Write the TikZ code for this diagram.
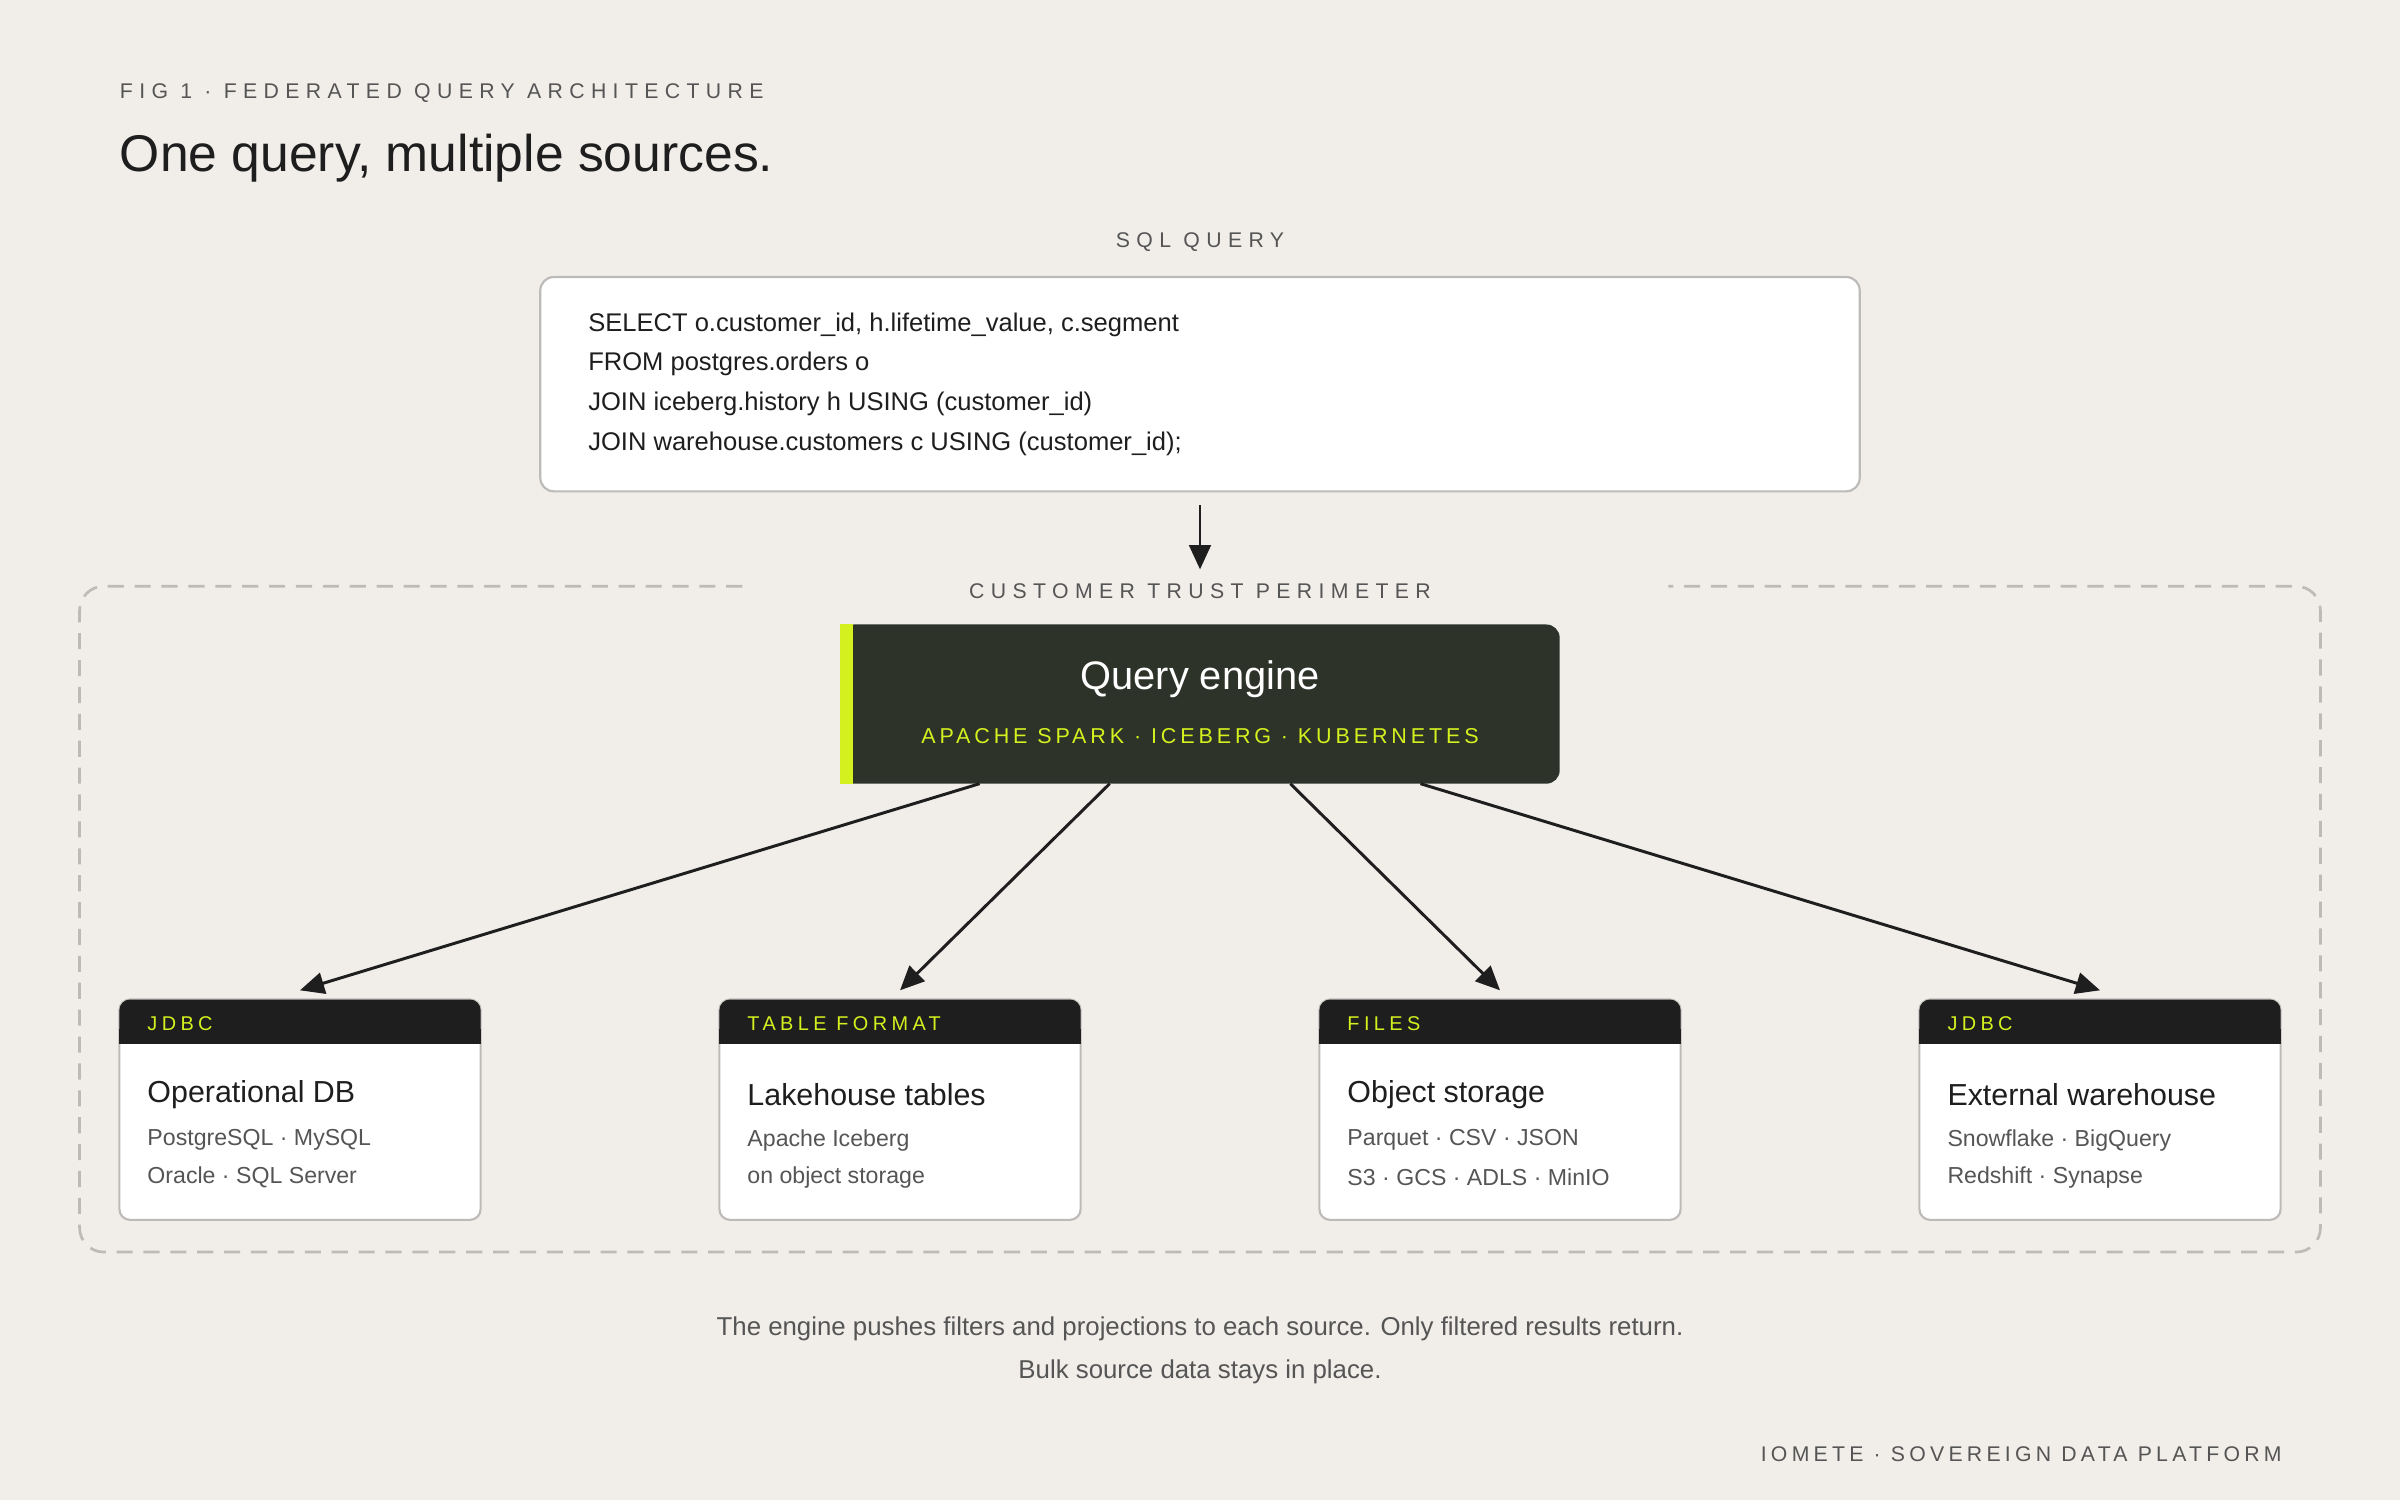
\documentclass[tikz,border=0pt]{standalone}
\usepackage{fontspec}
\setmainfont{Liberation Sans}
\usetikzlibrary{arrows.meta}
\definecolor{bg}{HTML}{F1EEEA}
\definecolor{ink}{HTML}{1E1E1E}
\definecolor{eng}{HTML}{2D3329}
\definecolor{lime}{HTML}{D4F01E}
\definecolor{bord}{HTML}{BDBBB8}
\definecolor{graytxt}{HTML}{555555}
\newcommand{\spaced}[2][22]{{\addfontfeatures{LetterSpace=#1}#2}}
\begin{document}
\begin{tikzpicture}[x=0.02cm,y=-0.02cm,
  lbl/.style={font=\fontsize{7.9}{9}\selectfont, text=graytxt},
  code/.style={font=\fontsize{9.5}{11}\selectfont, text=ink, anchor=west, inner sep=0pt},
  card/.style={draw=bord, line width=0.8pt, fill=white, rounded corners=4pt},
  hdr/.style={font=\fontsize{7.4}{9}\selectfont, text=lime, anchor=west, inner sep=0pt},
  ctitle/.style={font=\fontsize{11.3}{13}\selectfont, text=ink, anchor=west, inner sep=0pt},
  csub/.style={font=\fontsize{8.6}{10}\selectfont, text=graytxt, anchor=west, inner sep=0pt},
  arr/.style={-{Triangle[length=9pt,width=8pt]}, line width=1.1pt, draw=ink},
  foot/.style={font=\fontsize{9.6}{11}\selectfont, text=graytxt}]
\fill[bg] (0,0) rectangle (1568,980);
\useasboundingbox (0,0) rectangle (1568,980);
\node[lbl, anchor=west, inner sep=0pt] (fig) at (78,61) {\spaced[30]{FIG 1 · FEDERATED QUERY ARCHITECTURE}};
\node[anchor=west, inner sep=0pt, font=\fontsize{19.2}{22}\selectfont, text=ink] (title) at (78,103) {One query, multiple sources.};
\node[lbl] (sqllbl) at (784,158) {\spaced[30]{SQL QUERY}};
\draw[card, rounded corners=5pt] (353,181) rectangle (1215,321);
\node (qbox) at (784,251) {};
\node[code] (l1) at (384,212) {SELECT o.customer\_id, h.lifetime\_value, c.segment};
\node[code] (l2) at (384,238) {FROM postgres.orders o};
\node[code] (l3) at (384,264) {JOIN iceberg.history h USING (customer\_id)};
\node[code] (l4) at (384,290) {JOIN warehouse.customers c USING (customer\_id);};
\coordinate (qa) at (784,330);
\coordinate (qb) at (784,372);
\draw[arr] (qa) -- (qb);
% perimeter
\draw[bord, line width=1pt, dash pattern=on 6pt off 4pt, rounded corners=9pt]
  (485,383) -- (52,383) -- (52,818) -- (1516,818) -- (1516,383) -- (1090,383);
\node[lbl] (perim) at (784,386) {\spaced[30]{CUSTOMER TRUST PERIMETER}};
% engine
\fill[eng, rounded corners=5pt] (549,408) rectangle (1019,512);
\fill[lime] (549,408) rectangle (557,512);
\node (engine) at (784,460) {};
\node[font=\fontsize{14.8}{17}\selectfont, text=white] (et) at (784,444) {Query engine};
\node[font=\fontsize{8.0}{10}\selectfont, text=lime] (es) at (784,481) {\spaced[18]{APACHE SPARK · ICEBERG · KUBERNETES}};
% cards
\foreach \x/\h/\t/\a/\b [count=\i] in {
  78/JDBC/Operational DB/PostgreSQL · MySQL/Oracle · SQL Server,
  470/TABLE FORMAT/Lakehouse tables/Apache Iceberg/on object storage,
  862/FILES/Object storage/Parquet · CSV · JSON/S3 · GCS · ADLS · MinIO,
  1254/JDBC/External warehouse/Snowflake · BigQuery/Redshift · Synapse}{
  \draw[card] (\x,653) rectangle (\x+236,797);
  \fill[ink, rounded corners=4pt] (\x,653) rectangle (\x+236,682);
  \fill[ink] (\x,672) rectangle (\x+236,682);
  \node[hdr] (h\i) at (\x+18,669) {\spaced{\h}};
  \node[ctitle] (t\i) at (\x+18,715) {\t};
  \node[csub] (a\i) at (\x+18,745) {\a};
  \node[csub] (b\i) at (\x+18,769) {\b};
}
\coordinate (e1) at (640,512); \coordinate (c1) at (196,647);
\coordinate (e2) at (725,512); \coordinate (c2) at (588,647);
\coordinate (e3) at (843,512); \coordinate (c3) at (980,647);
\coordinate (e4) at (928,512); \coordinate (c4) at (1372,647);
\foreach \i in {1,...,4} \draw[arr] (e\i) -- (c\i);
\node[foot] (f1) at (784,868) {The engine pushes filters and projections to each source. Only filtered results return.};
\node[foot] (f2) at (784,896) {Bulk source data stays in place.};
\node[lbl, anchor=east, inner sep=0pt] (brand) at (1491,950) {\spaced[20]{IOMETE · SOVEREIGN DATA PLATFORM}};
\end{tikzpicture}
\end{document}
